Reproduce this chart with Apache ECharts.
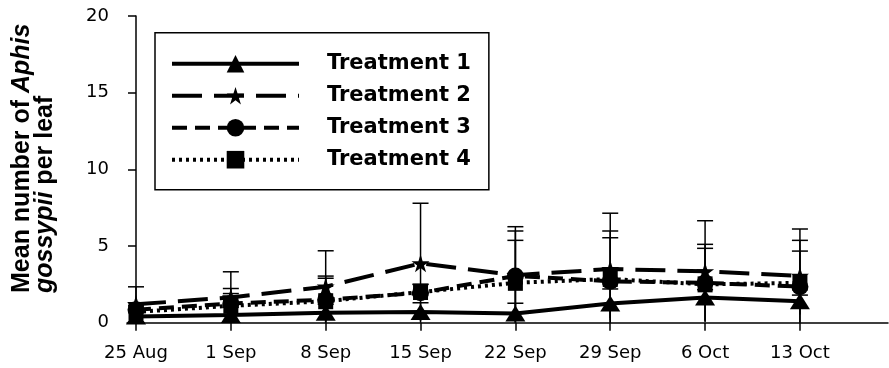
<!DOCTYPE html>
<html>
<head>
<meta charset="UTF-8">
<title>Aphis gossypii</title>
<style>
  html, body { margin: 0; padding: 0; background: #fff; }
  #main { width: 889px; height: 368px; }
</style>
</head>
<body>
<div id="main"></div>
<script src="https://cdn.jsdelivr.net/npm/echarts@6/dist/echarts.min.js"></script>
<script>
// sampling dates and days since 25 Aug
var dates = ['25 Aug', '1 Sep', '8 Sep', '15 Sep', '22 Sep', '29 Sep', '6 Oct', '13 Oct'];
var days = [0, 7, 14, 21, 28, 35, 42, 49];
var yTicks = [0, 5, 10, 15, 20];

// means per leaf
var t1 = [0.4, 0.5, 0.65, 0.7, 0.6, 1.25, 1.65, 1.4];
var t2 = [1.2, 1.65, 2.35, 3.87, 3.1, 3.5, 3.35, 3.05];
var t3 = [0.85, 1.25, 1.5, 1.95, 3.05, 2.7, 2.6, 2.35];
var t4 = [0.7, 1.1, 1.4, 2.0, 2.6, 2.85, 2.5, 2.6];

// standard deviations (error bars)
var t1Sd = [0.4, 0.5, 0.55, 0.6, 0.67, 0.95, 0.5, 0.4];
var t2Sd = [1.14, 1.67, 2.34, 3.92, 3.16, 3.64, 3.3, 3.06];
var t3Sd = [0.45, 0.98, 1.54, 0.55, 2.93, 3.28, 2.51, 3.02];
var t4Sd = [0.4, 0.8, 1.5, 0.5, 2.77, 2.69, 2.35, 2.07];

var names = ['Treatment 1', 'Treatment 2', 'Treatment 3', 'Treatment 4'];

var starPath = 'path://M0,-10L2.245,-3.09L9.511,-3.09L3.633,1.18L5.878,8.09L0,3.82L-5.878,8.09L-3.633,1.18L-9.511,-3.09L-2.245,-3.09Z';

function pts(vals) {
  return vals.map(function (v, i) { return [days[i], v]; });
}
function errPts(vals, sd) {
  return vals.map(function (v, i) { return [days[i], Math.max(0, v - sd[i]), v + sd[i]]; });
}

function renderErr(params, api) {
  var x = api.value(0);
  var top = api.coord([x, api.value(2)]);
  var bot = api.coord([x, api.value(1)]);
  var st = { stroke: '#000', lineWidth: 1.5 };
  return {
    type: 'group',
    children: [
      { type: 'line', shape: { x1: top[0], y1: top[1], x2: bot[0], y2: bot[1] }, style: st },
      { type: 'line', shape: { x1: top[0] - 8, y1: top[1], x2: top[0] + 8, y2: top[1] }, style: st }
    ]
  };
}

function errSeries(vals, sd) {
  return {
    type: 'custom',
    renderItem: renderErr,
    data: errPts(vals, sd),
    encode: { x: 0, y: [1, 2] },
    z: 1,
    silent: true
  };
}

function lineSeries(name, vals, dash, symbol, size) {
  return {
    name: name,
    type: 'line',
    data: pts(vals),
    symbol: symbol,
    symbolSize: size,
    showAllSymbol: true,
    itemStyle: { color: '#000' },
    lineStyle: { color: '#000', width: 4, type: dash },
    z: 3
  };
}

var chart = echarts.init(document.getElementById('main'));

chart.setOption({
  animation: false,
  backgroundColor: '#fff',
  textStyle: { fontFamily: 'DejaVu Sans', color: '#000' },
  grid: { left: 127, right: 1, top: 16, bottom: 45.3 },
  legend: {
    orient: 'vertical',
    left: 155,
    top: 32.7,
    data: names,
    itemWidth: 127,
    itemHeight: 22,
    itemGap: 8,
    padding: [19, 18, 18, 15],
    borderColor: '#000',
    borderWidth: 1.5,
    selectedMode: false,
    lineStyle: { width: 4 },
    textStyle: {
      fontFamily: 'DejaVu Sans',
      fontWeight: 'bold',
      fontSize: 21,
      lineHeight: 24,
      color: '#000',
      padding: [0, 0, 0, 23]
    }
  },
  xAxis: {
    type: 'value',
    min: -0.664,
    max: 55.5,
    splitLine: { show: false },
    axisLine: { onZero: false, lineStyle: { color: '#000', width: 1.5 } },
    axisTick: { customValues: days, length: 8, lineStyle: { color: '#000', width: 1.5 } },
    axisLabel: {
      customValues: days,
      margin: 22,
      fontSize: 18,
      color: '#000',
      fontFamily: 'DejaVu Sans',
      formatter: function (v) { return dates[days.indexOf(v)]; }
    }
  },
  yAxis: {
    type: 'value',
    min: yTicks[0],
    max: yTicks[yTicks.length - 1],
    interval: 5,
    splitLine: { show: false },
    axisLine: { show: true, lineStyle: { color: '#000', width: 1.5 } },
    axisTick: { show: true, length: 8, lineStyle: { color: '#000', width: 1.5 } },
    axisLabel: { margin: 18, fontSize: 18, color: '#000', fontFamily: 'DejaVu Sans' }
  },
  graphic: [{
    type: 'text',
    x: 11,
    y: 293,
    rotation: Math.PI / 2,
    style: {
      text: '{b|Mean number of }{bi|Aphis}\n{bi|gossypii}{b| per leaf}',
      align: 'left',
      verticalAlign: 'top',
      fill: '#000',
      rich: {
        b: { fontFamily: 'Liberation Sans', fontWeight: 'bold', fontSize: 25, lineHeight: 23, fill: '#000' },
        bi: { fontFamily: 'Liberation Sans', fontWeight: 'bold', fontStyle: 'italic', fontSize: 25, lineHeight: 23, fill: '#000' }
      }
    }
  }],
  series: [
    errSeries(t1, t1Sd),
    errSeries(t2, t2Sd),
    errSeries(t3, t3Sd),
    errSeries(t4, t4Sd),
    lineSeries(names[0], t1, 'solid', 'triangle', [20, 16]),
    lineSeries(names[1], t2, [30, 12], starPath, 18),
    lineSeries(names[2], t3, [15, 8], 'circle', 17),
    lineSeries(names[3], t4, [3, 4], 'rect', [15, 16])
  ]
});
</script>
</body>
</html>
